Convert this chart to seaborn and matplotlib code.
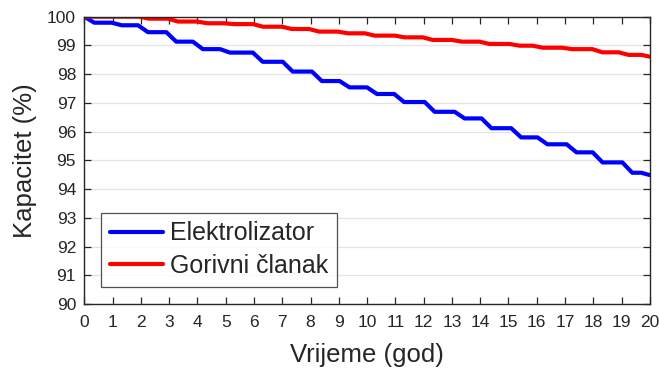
import numpy as np
import pandas as pd
import matplotlib
matplotlib.use("Agg")
import matplotlib.pyplot as plt
import seaborn as sns

# Capacity levels (%) reached after each yearly degradation step
start_capacity = 100.0

elektrolizator_years = [0.0, 0.97, 1.9, 2.9, 3.84, 4.8, 5.96, 7.02, 8.05, 9.03, 10.0,
                        10.96, 12.04, 13.1, 14.05, 15.1, 16.03, 17.06, 17.98, 19.03, 19.7]
elektrolizator_levels = [99.79, 99.70, 99.46, 99.13, 98.87, 98.75, 98.43, 98.09, 97.76, 97.54, 97.31,
                         97.03, 96.69, 96.46, 96.12, 95.80, 95.56, 95.28, 94.93, 94.57, 94.49]

gorivni_years = [1.93, 2.96, 3.99, 4.95, 5.97, 6.99, 7.95, 8.97, 9.92, 10.98,
                 11.97, 13.0, 13.98, 15.04, 15.86, 16.9, 17.97, 18.9, 19.7]
gorivni_levels = [99.93, 99.83, 99.77, 99.74, 99.65, 99.57, 99.48, 99.42, 99.34, 99.28,
                  99.19, 99.13, 99.05, 98.99, 98.92, 98.87, 98.76, 98.67, 98.61]

series_names = ["Elektrolizator", "Gorivni članak"]
x_ticks = list(range(0, 21))
y_ticks = list(range(90, 101))

T_END = 20.0
RAMP = 0.35  # duration of each drop


def step_path(years, levels, y0, t_end):
    xs, ys = [0.0], [y0]
    prev = y0
    for t, lv in zip(years, levels):
        if t > xs[-1]:
            xs.append(t)
            ys.append(prev)
        te = min(t + RAMP, t_end)
        xs.append(te)
        ys.append(lv)
        prev = lv
    if xs[-1] < t_end:
        xs.append(t_end)
        ys.append(prev)
    return xs, ys


xb, yb = step_path(elektrolizator_years, elektrolizator_levels, start_capacity, T_END)
xr, yr = step_path(gorivni_years, gorivni_levels, start_capacity, T_END)

df = pd.concat([
    pd.DataFrame({"god": xb, "kap": yb, "serija": series_names[0]}),
    pd.DataFrame({"god": xr, "kap": yr, "serija": series_names[1]}),
], ignore_index=True)

sns.set_theme(style="white")
plt.rcParams["font.family"] = ["Liberation Sans", "DejaVu Sans"]

fig = plt.figure(figsize=(6.59, 3.70), dpi=100)
ax = fig.add_axes([0.128, 0.178, 0.858, 0.777])

sns.lineplot(data=df, x="god", y="kap", hue="serija", hue_order=series_names,
             palette=["#0000ff", "#ff0000"], estimator=None, sort=False,
             linewidth=3.0, ax=ax)
for ln in ax.get_lines():
    ln.set_solid_joinstyle("round")
    ln.set_solid_capstyle("round")

ax.set_xlim(0, 20)
ax.set_ylim(90, 100)
ax.set_xticks(x_ticks)
ax.set_yticks(y_ticks)
ax.set_xticklabels([str(v) for v in x_ticks])
ax.set_yticklabels([str(v) for v in y_ticks])

ax.yaxis.grid(True, color="#e3e3e3", linewidth=0.9)
ax.xaxis.grid(False)
ax.set_axisbelow(True)

for s in ax.spines.values():
    s.set_visible(True)
    s.set_color("#262626")
    s.set_linewidth(1.0)

ax.tick_params(axis="both", which="major", direction="in", length=5, width=0.9,
               color="#262626", labelcolor="#262626", labelsize=12.5,
               top=True, right=True, bottom=True, left=True)
ax.tick_params(axis="x", pad=8)
ax.tick_params(axis="y", pad=6)

ax.set_xlabel("Vrijeme (god)", fontsize=18.5, color="#262626", labelpad=9)
ax.set_ylabel("Kapacitet (%)", fontsize=18.5, color="#262626", labelpad=7)

leg = ax.legend(loc="lower left", bbox_to_anchor=(0.03, 0.06), fontsize=18,
                frameon=True, fancybox=False, edgecolor="#262626",
                handlelength=2.1, handletextpad=0.3, borderpad=0.35,
                labelspacing=0.35, borderaxespad=0)
leg.get_frame().set_linewidth(0.9)
for line in leg.get_lines():
    line.set_linewidth(3.0)

fig.savefig("out.png", dpi=100)
